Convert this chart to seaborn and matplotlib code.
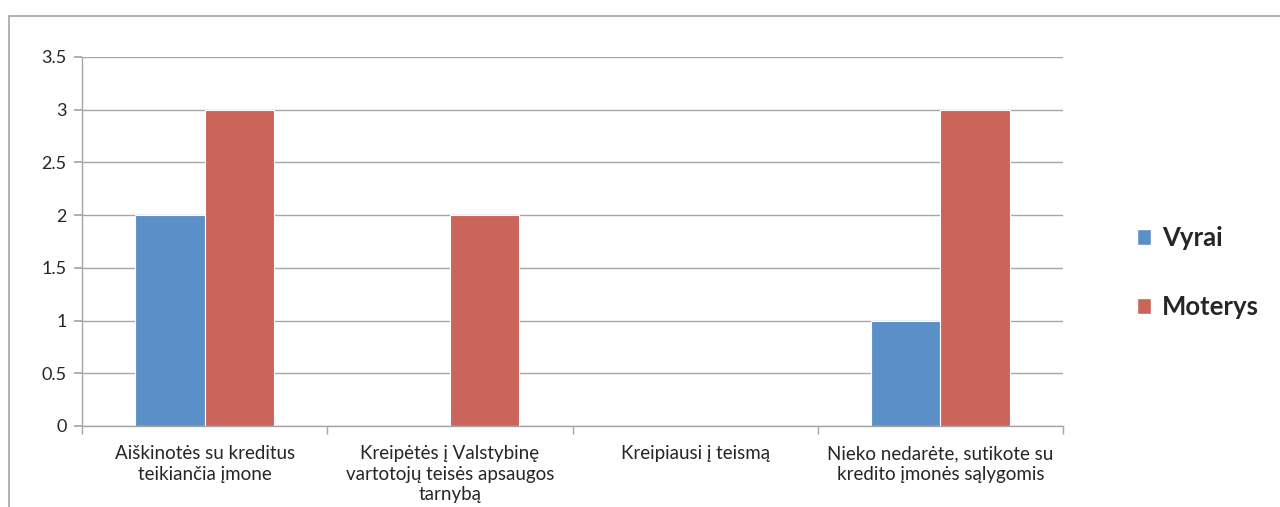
import matplotlib
matplotlib.use("Agg")
import matplotlib.pyplot as plt
import pandas as pd
import seaborn as sns
from matplotlib.patches import Rectangle

categories = [
    "Aiškinotės su kreditus\nteikiančia įmone",
    "Kreipėtės į Valstybinę\nvartotojų teisės apsaugos\ntarnybą",
    "Kreipiausi į teismą",
    "Nieko nedarėte, sutikote su\nkredito įmonės sąlygomis",
]
series_names = ["Vyrai", "Moterys"]
vyrai = [2, 0, 0, 1]
moterys = [3, 2, 0, 3]
colors = ["#5B8FC7", "#CB645A"]

df = pd.DataFrame({
    "category": categories * 2,
    "group": [series_names[0]] * 4 + [series_names[1]] * 4,
    "value": vyrai + moterys,
})

sns.set_theme(style="white")
plt.rcParams["font.family"] = ["Lato", "DejaVu Sans"]

fig = plt.figure(figsize=(12.8, 5.07), dpi=100)
ax = fig.add_axes([0.0641, 0.1598, 0.7664, 0.7278])

# outer chart frame (cut off on right and bottom)
fig.patches.append(Rectangle((0.007, -0.2), 1.2, 0.9684 + 0.2, transform=fig.transFigure,
                             fill=False, edgecolor="#A6A6A6", linewidth=1.2))

sns.barplot(data=df, x="category", y="value", hue="group", palette=colors,
            saturation=1, width=0.567, gap=0, edgecolor="white", linewidth=0.8,
            ax=ax, legend=False)

ax.set_ylim(0, 3.5)
ax.set_xlim(-0.5, 3.5)
ax.set_yticks([0, 0.5, 1, 1.5, 2, 2.5, 3, 3.5])
ax.set_yticklabels(["0", "0.5", "1", "1.5", "2", "2.5", "3", "3.5"])
ax.yaxis.grid(True, color="#A6A6A6", linewidth=1)
ax.set_axisbelow(True)
ax.set_xlabel("")
ax.set_ylabel("")

for s in ["top", "right"]:
    ax.spines[s].set_visible(False)
for s in ["left", "bottom"]:
    ax.spines[s].set_color("#A6A6A6")
    ax.spines[s].set_linewidth(1)

ax.tick_params(axis="y", length=6, color="#A6A6A6", labelsize=13, pad=5, left=True)
ax.tick_params(axis="x", which="major", length=0, labelsize=13.5, pad=14)
ax.set_xticks([-0.5, 0.5, 1.5, 2.5, 3.5], minor=True)
ax.tick_params(axis="x", which="minor", length=6, color="#A6A6A6", bottom=True)
for lab in ax.get_xticklabels():
    lab.set_linespacing(1.25)
    lab.set_verticalalignment("top")

handles = [Rectangle((0, 0), 1, 1, facecolor=c) for c in colors]
fig.legend(handles, series_names, loc="center left", bbox_to_anchor=(0.8705, 0.462),
           frameon=False, prop={"size": 18.5, "weight": "bold"},
           handlelength=0.55, handleheight=0.55, handletextpad=0.4, labelspacing=1.75)

fig.savefig("out.png", dpi=100, facecolor="white")
